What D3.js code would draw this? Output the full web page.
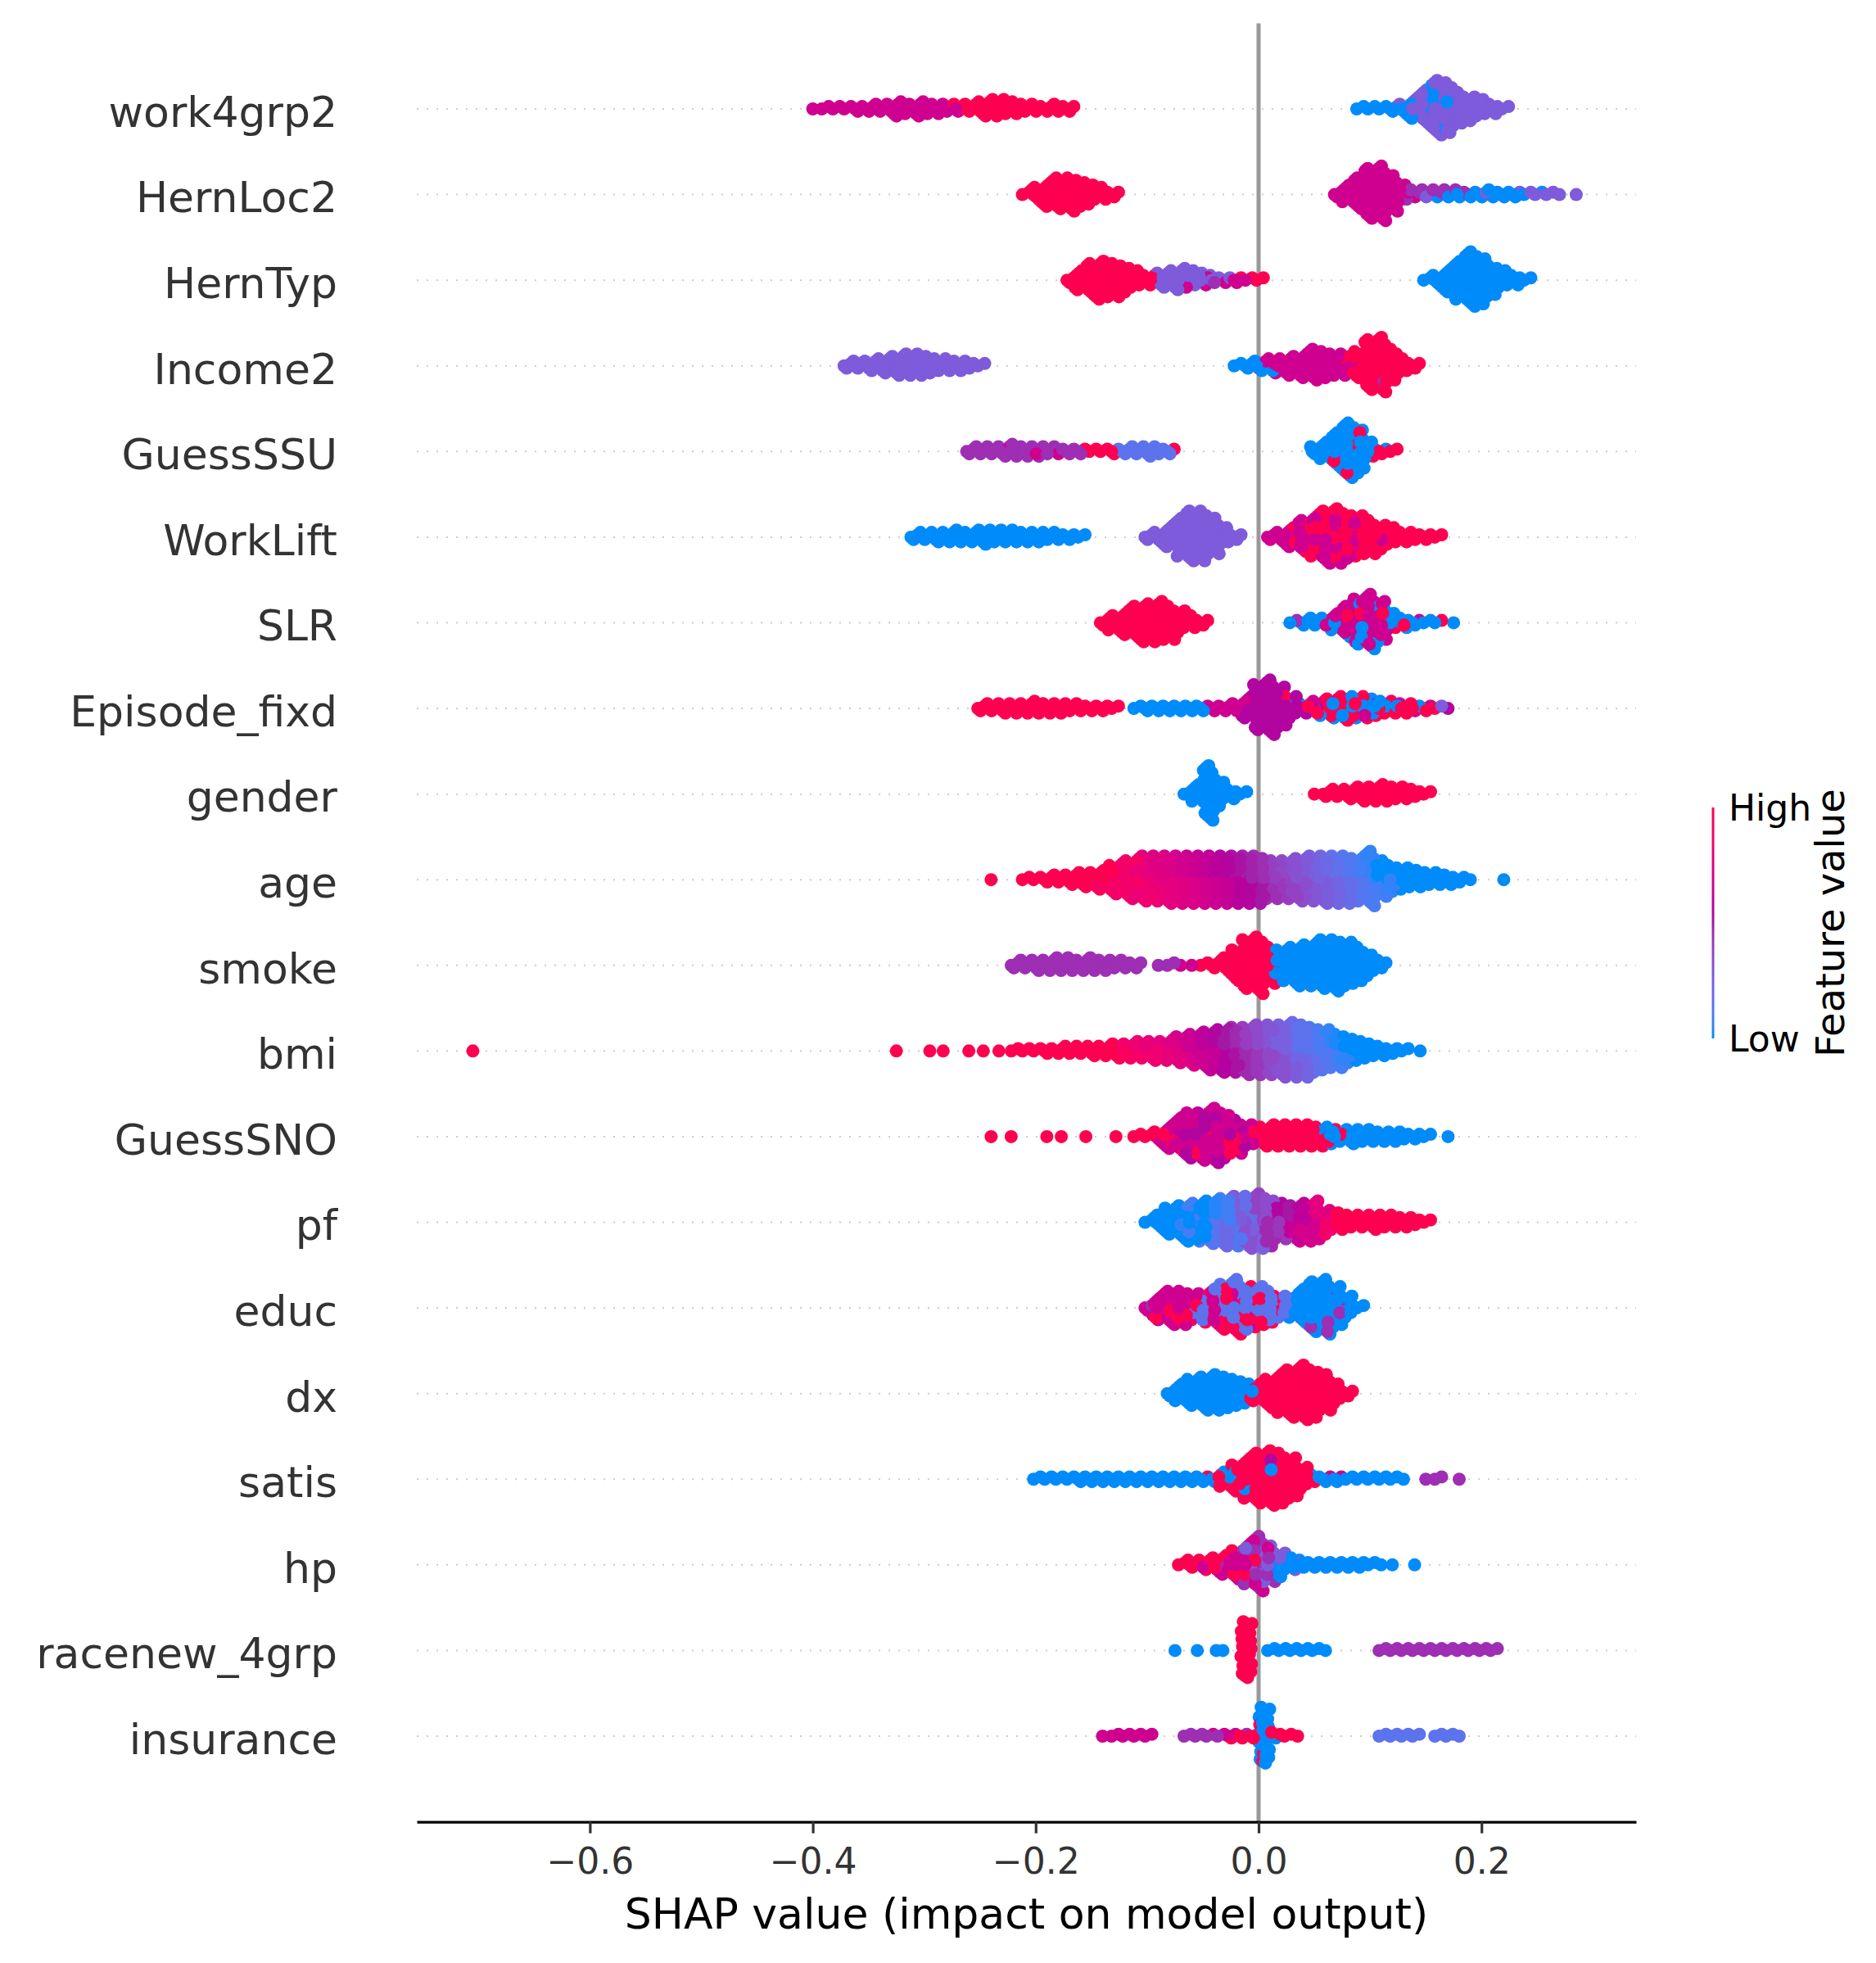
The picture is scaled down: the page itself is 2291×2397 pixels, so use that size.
<!DOCTYPE html>
<html>
<head>
<meta charset="utf-8">
<script src="https://cdn.jsdelivr.net/npm/d3@7"></script>
<style>
  body { margin: 0; background: #fff; }
  text { font-family: "DejaVu Sans", sans-serif; }
</style>
</head>
<body>
<div id="chart"></div>
<script>
// feature value levels (0 = low, 1 = high)
var B = 0, BV = 0.15, V = 0.27, P = 0.45, PM = 0.55, M = 0.67, R = 1;

// features, top to bottom
var features = ["work4grp2", "HernLoc2", "HernTyp", "Income2", "GuessSSU", "WorkLift", "SLR",
  "Episode_fixd", "gender", "age", "smoke", "bmi", "GuessSNO", "pf", "educ", "dx", "satis",
  "hp", "racenew_4grp", "insurance"];

// each entry: [shap value, count, feature value, count, feature value, ...]
var work4grp2 = [[-0.40,1,M],[-0.39,2,M],[-0.38,2,M],[-0.37,2,M],[-0.36,3,M],[-0.35,3,M],[-0.34,4,M],
  [-0.33,5,M],[-0.32,7,M],[-0.31,5,M],[-0.30,7,M],[-0.29,5,M],[-0.28,4,M],[-0.27,2,M,2,R],[-0.26,4,R],
  [-0.25,6,R],[-0.24,7,R,1,M],[-0.23,8,R],[-0.22,6,R],[-0.21,4,R],[-0.20,4,R],[-0.19,3,R],[-0.18,4,R],
  [-0.17,3,R],
  [0.09,2,B],[0.10,2,B],[0.11,2,B],[0.12,3,B],[0.13,3,B,2,V],[0.14,4,B,6,V],[0.15,4,B,12,V],
  [0.16,3,B,21,V],[0.17,2,B,20,V],[0.18,1,B,13,V],[0.19,11,V],[0.20,8,V],[0.21,5,V],[0.22,2,V]];

var HernLoc2 = [[-0.21,2,R],[-0.20,6,R],[-0.19,11,R],[-0.18,14,R],[-0.17,15,R],[-0.16,12,R],
  [-0.15,9,R],[-0.14,6,R],[-0.13,3,R],
  [0.07,3,M],[0.08,8,M],[0.09,14,M],[0.10,22,M],[0.11,24,M],[0.12,16,M],[0.13,7,M,1,P],
  [0.14,3,P,1,M],[0.15,3,P,1,V],[0.16,2,B,2,P],[0.17,3,P,1,B],[0.18,2,B,2,P],[0.19,3,B],
  [0.20,2,B,1,V],[0.21,4,B],[0.22,3,B],[0.23,2,B,1,V],[0.24,1,B,1,V],[0.25,1,V,1,B],[0.26,2,V],
  [0.27,1,V],[0.285,1,V]];

var HernTyp = [[-0.17,3,R],[-0.16,9,R],[-0.15,15,R],[-0.14,17,R],[-0.13,15,R],[-0.12,12,R],
  [-0.11,8,R],[-0.10,5,R],
  [-0.09,5,V,1,R],[-0.08,7,V,1,M],[-0.07,8,V,2,M],[-0.06,6,V,2,M],[-0.05,4,V,2,M],[-0.04,3,V,1,P],
  [-0.03,2,M,1,V],[-0.02,2,M,1,R],[-0.01,1,M,1,R],[0.00,2,R],
  [0.15,2,B],[0.16,5,B],[0.17,11,B],[0.18,17,B],[0.19,24,B],[0.20,21,B],[0.21,13,B],[0.22,8,B],
  [0.23,5,B],[0.24,2,B]];

var Income2 = [[-0.37,3,V],[-0.36,4,V],[-0.35,5,V],[-0.34,6,V],[-0.33,8,V],[-0.32,10,V],[-0.31,10,V],
  [-0.30,9,V],[-0.29,7,V],[-0.28,6,V],[-0.27,5,V],[-0.26,4,V],[-0.25,2,V],
  [-0.02,2,B],[-0.01,3,B],[0.00,4,B,1,M],[0.01,3,B,3,M],[0.02,7,M],[0.03,9,M],[0.04,11,M],
  [0.05,14,M],[0.06,12,M],[0.07,9,M,1,R],[0.08,5,M,4,R],[0.09,2,M,10,R],[0.10,22,R],
  [0.11,23,R,1,P],[0.12,14,R],[0.13,7,R],[0.14,3,R]];

var GuessSSU = [[-0.26,3,P],[-0.25,4,P],[-0.24,4,P],[-0.23,5,P],[-0.22,5,P,1,M],[-0.21,5,P],
  [-0.20,4,P,1,M],[-0.19,4,P],[-0.18,3,P,1,M],[-0.17,3,P],[-0.16,2,P,1,R],[-0.15,2,R],[-0.14,2,R],
  [-0.13,2,R,1,BV],[-0.12,3,BV],[-0.11,4,BV],[-0.10,5,BV],[-0.09,4,BV],[-0.08,2,BV,1,R],
  [0.05,4,B],[0.06,8,B],[0.07,15,B,1,R],[0.08,22,B,2,R],[0.09,18,B,2,R],[0.10,7,B,1,R],
  [0.11,1,B,2,R],[0.12,2,R]];

var WorkLift = [[-0.31,3,B],[-0.30,4,B],[-0.29,5,B],[-0.28,5,B],[-0.27,6,B],[-0.26,5,B],[-0.25,6,B],
  [-0.24,7,B],[-0.23,6,B],[-0.22,6,B],[-0.21,5,B],[-0.20,5,B],[-0.19,4,B],[-0.18,4,B],[-0.17,3,B],
  [-0.16,2,B],
  [-0.10,3,V],[-0.09,5,V],[-0.08,10,V],[-0.07,17,V],[-0.06,22,V],[-0.05,22,V],[-0.04,16,V],
  [-0.03,8,V],[-0.02,3,V],
  [0.01,3,M],[0.02,5,M],[0.03,6,M,3,R],[0.04,9,M,5,R],[0.05,10,M,8,R],[0.06,12,M,11,R],
  [0.07,10,M,14,R],[0.08,6,M,14,R],[0.09,4,M,14,R],[0.10,3,M,12,R],[0.11,2,M,9,R],[0.12,1,M,7,R],
  [0.13,5,R],[0.14,4,R],[0.15,3,R],[0.16,2,R]];

var SLR = [[-0.14,3,R],[-0.13,7,R],[-0.12,11,R],[-0.11,15,R],[-0.10,17,R],[-0.09,18,R],[-0.08,15,R],
  [-0.07,10,R],[-0.06,6,R],[-0.05,3,R],
  [0.03,1,B,1,P],[0.04,3,B],[0.05,4,B],[0.06,3,B,1,M],[0.07,4,B,4,M],[0.08,5,B,8,M,1,R],
  [0.09,6,B,13,M,1,R],[0.10,7,B,16,M,1,R],[0.11,5,B,12,M,1,R],[0.12,4,B,3,M,1,R],[0.13,4,B,1,R],
  [0.14,2,B,1,M],[0.15,2,B],[0.16,1,B,1,R],[0.175,1,B]];

var Episode_fixd = [[-0.25,3,R],[-0.24,4,R],[-0.23,5,R],[-0.22,5,R],[-0.21,5,R],[-0.20,6,R],
  [-0.19,5,R],[-0.18,5,R],[-0.17,4,R],[-0.16,4,R],[-0.15,3,R],[-0.14,3,R],[-0.13,2,R],
  [-0.11,2,B],[-0.10,3,B],[-0.09,3,B],[-0.08,3,B],[-0.07,3,B],[-0.06,3,B],[-0.05,2,B,1,M],
  [-0.04,3,M],[-0.03,3,M],[-0.02,4,M],
  [-0.01,9,PM,1,M],[0.00,20,PM],[0.01,24,PM],[0.02,17,PM,1,R],[0.03,8,PM,2,B],[0.04,3,PM,1,R,1,B],
  [0.05,2,B,2,R,2,M],[0.06,3,B,3,R,2,M],[0.07,4,B,4,R,2,M],[0.08,4,B,5,R,2,M],[0.09,3,B,5,R,2,M],
  [0.10,3,B,4,R,2,M],[0.11,2,B,4,R,1,M],[0.12,1,B,4,R,1,M],[0.13,1,B,3,R,1,M],[0.14,2,R,1,B,1,M],
  [0.15,2,R,1,M],[0.16,1,R,1,V],[0.17,1,PM]];

var gender = [[-0.065,2,B],[-0.055,8,B],[-0.045,24,B],[-0.035,12,B],[-0.025,5,B],[-0.015,2,B],
  [0.05,1,R],[0.06,3,R],[0.07,4,R],[0.08,5,R],[0.09,6,R],[0.10,7,R],[0.11,8,R],[0.12,7,R],
  [0.13,6,R],[0.14,4,R],[0.15,2,R]];

var age = [[-0.24,1,R],[-0.21,2,R],[-0.20,2,R],[-0.19,3,R],[-0.18,4,R],[-0.17,5,R],[-0.16,6,R],
  [-0.15,7,R],[-0.14,7,R,2,0.9],[-0.13,6,R,7,0.9],[-0.12,6,0.95,10,0.88],[-0.11,10,0.9,8,0.82],
  [-0.10,10,0.85,10,0.78],[-0.09,10,0.82,10,0.75],[-0.08,11,0.78,10,0.72],[-0.07,11,0.75,10,0.68],
  [-0.06,11,0.72,10,0.65],[-0.05,11,0.68,10,0.62],[-0.04,11,0.65,10,0.58],[-0.03,11,0.62,10,0.55],
  [-0.02,11,0.58,10,0.52],[-0.01,11,0.55,10,0.48],[0.00,11,0.5,10,0.45],[0.01,9,0.45,8,0.4],
  [0.02,9,0.42,8,0.36],[0.03,9,0.38,9,0.32],[0.04,10,0.34,9,0.28],[0.05,10,0.3,10,0.24],
  [0.06,11,0.26,10,0.2],[0.07,11,0.22,10,0.16],[0.08,11,0.18,10,0.12],[0.09,10,0.14,9,0.08],
  [0.10,12,0.1,12,0.05],[0.11,8,0.08,8,B],[0.12,6,0.05,6,B],[0.13,10,B],[0.14,8,B],[0.15,7,B],
  [0.16,6,B],[0.17,5,B],[0.18,3,B],[0.19,1,B],[0.22,1,B]];

var smoke = [[-0.22,3,P],[-0.21,4,P],[-0.20,5,P],[-0.19,5,P],[-0.18,6,P],[-0.17,6,P],[-0.16,5,P],
  [-0.15,6,P],[-0.14,5,P],[-0.13,4,P],[-0.12,4,P],[-0.11,3,P],[-0.09,1,P],[-0.08,2,P],[-0.07,1,M],
  [-0.06,1,M],[-0.05,2,R],[-0.04,3,R],[-0.03,6,R],[-0.02,13,R],[-0.01,20,R],[0.00,23,R],
  [0.01,12,R,3,B],[0.02,13,B],[0.03,15,B],[0.04,17,B],[0.05,18,B],[0.06,20,B],[0.07,21,B],
  [0.08,18,B],[0.09,14,B],[0.10,9,B],[0.11,4,B]];

var bmi = [[-0.705,1,R],[-0.325,1,R],[-0.295,1,R],[-0.283,1,R],[-0.26,1,R],[-0.247,1,R],
  [-0.233,1,R],[-0.22,2,R],[-0.21,2,R],[-0.20,2,R],[-0.19,3,R],[-0.18,3,R],[-0.17,4,R],[-0.16,4,R],
  [-0.15,5,R],[-0.14,5,R],[-0.13,6,R],[-0.12,4,0.95,3,0.88],[-0.11,4,0.9,4,0.85],
  [-0.10,4,0.88,4,0.8],[-0.09,5,0.85,4,0.78],[-0.08,5,0.8,5,0.74],[-0.07,6,0.76,6,0.7],
  [-0.06,7,0.72,7,0.65],[-0.05,8,0.66,8,0.6],[-0.04,9,0.62,9,0.55],[-0.03,10,0.56,9,0.5],
  [-0.02,10,0.52,10,0.46],[-0.01,11,0.46,10,0.4],[0.00,11,0.42,11,0.35],[0.01,11,0.36,11,0.3],
  [0.02,12,0.32,11,0.25],[0.03,12,0.26,12,0.2],[0.04,12,0.22,11,0.15],[0.05,10,0.16,10,0.1],
  [0.06,9,0.12,9,0.05],[0.07,8,0.08,7,0.02],[0.08,6,0.04,6,B],[0.09,9,B],[0.10,7,B],[0.11,5,B],
  [0.12,3,B],[0.13,2,B],[0.145,1,B]];

var GuessSNO = [[-0.24,1,R],[-0.222,1,R],[-0.19,1,R],[-0.177,1,R],[-0.155,1,R],[-0.128,1,R],
  [-0.11,2,R],[-0.10,2,R],[-0.09,2,R,3,M],[-0.08,1,R,7,M,3,PM],[-0.07,2,R,9,M,5,PM],
  [-0.06,2,R,11,M,7,PM],[-0.05,2,R,11,M,8,PM],[-0.04,2,R,12,M,10,PM],[-0.03,2,R,10,M,8,PM],
  [-0.02,2,R,7,M,6,PM],[-0.01,1,R,5,M,4,PM],[0.00,6,R,2,M],[0.01,9,R,1,V],[0.02,9,R,1,V],
  [0.03,9,R,1,V],[0.04,8,R,1,V,1,M],[0.05,7,R,2,V],[0.06,5,R,3,B,1,V],[0.07,2,R,5,B],[0.08,6,B],
  [0.09,7,B],[0.10,6,B],[0.11,5,B],[0.12,5,B],[0.13,4,B],[0.14,3,B],[0.15,2,B],[0.17,1,B]];

var pf = [[-0.10,2,B],[-0.09,6,B],[-0.08,11,B,1,0.05],[-0.07,12,B,3,0.05],[-0.06,12,B,5,0.08],
  [-0.05,11,B,7,0.1],[-0.04,9,0.03,10,0.14],[-0.03,10,0.08,11,0.2],[-0.02,11,0.12,11,0.26],
  [-0.01,11,0.18,12,0.32],[0.00,12,0.25,12,0.38],[0.01,10,0.34,11,0.46],[0.02,8,0.42,8,0.55],
  [0.03,7,0.5,8,0.62],[0.04,8,0.6,9,0.7],[0.05,9,0.68,9,0.78],[0.06,5,0.75,6,0.88],
  [0.07,3,0.85,5,R],[0.08,7,R],[0.09,6,R],[0.10,6,R],[0.11,7,R],[0.12,6,R],[0.13,5,R],[0.14,4,R],
  [0.15,2,R]];

var educ = [[-0.10,1,P,2,M],[-0.09,9,M,2,R],[-0.08,12,M,3,R],[-0.07,11,M,3,R,1,BV],
  [-0.06,8,M,3,R,1,BV],[-0.05,5,M,5,R,3,BV],[-0.04,4,M,6,R,6,BV],[-0.03,3,M,7,R,10,BV],
  [-0.02,3,M,8,R,13,BV],[-0.01,2,M,8,R,9,BV],[0.00,1,M,8,R,9,BV],[0.01,5,R,9,BV],[0.02,2,R,8,BV],
  [0.03,9,B],[0.04,15,B,1,P],[0.05,20,B,2,P],[0.06,21,B,3,P],[0.07,16,B,2,P],[0.08,9,B,1,P],
  [0.09,2,B]];

var dx = [[-0.08,3,B],[-0.07,8,B],[-0.06,12,B],[-0.05,15,B],[-0.04,16,B],[-0.03,14,B],[-0.02,12,B],
  [-0.01,8,B,1,R],[0.00,2,B,6,R],[0.01,13,R],[0.02,18,R],[0.03,21,R],[0.04,24,R],[0.05,21,R],
  [0.06,16,R],[0.07,9,R],[0.08,3,R]];

var satis = [[-0.20,2,B],[-0.19,2,B],[-0.18,2,B],[-0.17,2,B],[-0.16,3,B],[-0.15,3,B],[-0.14,3,B],
  [-0.13,3,B],[-0.12,3,B],[-0.11,3,B],[-0.10,3,B],[-0.09,3,B],[-0.08,3,B],[-0.07,3,B],[-0.06,3,B],
  [-0.05,2,B,1,R],[-0.04,2,B,1,R],[-0.03,2,B,5,R],[-0.02,1,B,11,R],[-0.01,1,B,17,R],[0.00,22,R],
  [0.01,22,R,1,B,1,PM],[0.02,22,R],[0.03,18,R],[0.04,10,R],[0.05,2,R,2,B],[0.06,2,B,1,M],
  [0.07,2,B,1,M],[0.08,2,B],[0.09,2,B],[0.10,2,B],[0.11,2,B],[0.12,2,B],[0.13,1,B],[0.15,1,P],
  [0.16,2,P],[0.18,1,P]];

var hp = [[-0.07,2,R],[-0.06,4,R],[-0.05,4,R,1,M],[-0.04,4,R,2,M],[-0.03,4,R,4,M,1,P],
  [-0.02,4,R,6,M,3,P],[-0.01,3,R,8,M,5,P,2,V],[0.00,2,R,8,M,8,P,6,V],[0.01,3,M,5,P,6,V,2,B],
  [0.02,5,V,6,B],[0.03,2,V,4,B],[0.04,4,B],[0.05,3,B],[0.06,3,B],[0.07,3,B],[0.08,3,B],[0.09,3,B],
  [0.10,2,B],[0.11,1,B],[0.12,1,B],[0.14,1,B]];

var racenew_4grp = [[-0.075,1,B],[-0.055,1,B],[-0.038,1,B],[-0.032,1,B],[-0.011,30,R],
  [0.01,2,B],[0.02,2,B],[0.03,2,B],[0.04,2,B],[0.05,2,B],[0.06,1,B],
  [0.11,2,P],[0.12,2,P],[0.13,2,P],[0.14,2,P],[0.15,2,P],[0.16,2,P],[0.17,2,P],[0.18,2,P],
  [0.19,2,P],[0.20,2,P],[0.21,2,P]];

var insurance = [[-0.14,1,M],[-0.13,2,M],[-0.12,2,M],[-0.11,2,M],[-0.10,2,M],[-0.065,2,P],
  [-0.055,2,P],[-0.045,1,P,1,M],[-0.035,1,P,1,M],[-0.025,1,M,2,R],[-0.015,1,P,2,R],[-0.005,2,R,1,B],
  [0.005,26,B,4,R],[0.015,3,R,1,B],[0.025,2,R],[0.035,1,R],
  [0.11,2,BV],[0.12,2,BV],[0.13,2,BV],[0.14,2,BV],[0.16,2,BV],[0.17,2,BV],[0.18,1,BV]];

var rows = [work4grp2, HernLoc2, HernTyp, Income2, GuessSSU, WorkLift, SLR, Episode_fixd, gender,
  age, smoke, bmi, GuessSNO, pf, educ, dx, satis, hp, racenew_4grp, insurance];

var xTicks = [-0.6, -0.4, -0.2, 0, 0.2];
var legendLabels = ["Low", "High"];

// ---------------------------------------------------------------
var width = 2291, height = 2397;
var svg = d3.select("#chart").append("svg")
  .attr("width", width).attr("height", height)
  .style("background", "#fff");

var xScale = d3.scaleLinear().domain([-0.7553, 0.3387]).range([509, 1998]);
// matplotlib ylim(-1, n_features)
var yScale = d3.scaleLinear().domain([-1, features.length]).range([2224.6, 28.4]);

// shap red_blue colour map (lch path, lightness dips to 40 in the middle)
var blueEnd = d3.hcl("#008bfb"), redEnd = d3.hcl("#ff0051");
var hueRed = redEnd.h < blueEnd.h ? redEnd.h + 360 : redEnd.h;
function shapColor(t) {
  var l = t < 0.5 ? blueEnd.l + (40 - blueEnd.l) * t * 2 : 40 + (redEnd.l - 40) * (t - 0.5) * 2;
  var c = blueEnd.c + (redEnd.c - blueEnd.c) * t;
  var h = blueEnd.h + (hueRed - blueEnd.h) * t;
  return d3.hcl(h, c, l).formatHex();
}

// dotted row guides
svg.append("g").selectAll("line").data(features).enter().append("line")
  .attr("x1", xScale.range()[0]).attr("x2", xScale.range()[1])
  .attr("y1", function(d, i) { return yScale(features.length - 1 - i); })
  .attr("y2", function(d, i) { return yScale(features.length - 1 - i); })
  .attr("stroke", "#cccccc").attr("stroke-width", 2)
  .attr("stroke-dasharray", "2,10");

// zero line
svg.append("line")
  .attr("x1", xScale(0)).attr("x2", xScale(0))
  .attr("y1", yScale(features.length)).attr("y2", yScale(-1))
  .attr("stroke", "#999999").attr("stroke-width", 5);

// beeswarm layout: stack each column alternately above / below the row line
var phi = 0.6180339887;
var binWidth = 0.01;
var points = [];
rows.forEach(function(cols, ri) {
  var pos = features.length - 1 - ri;
  var counts = cols.map(function(col) {
    var n = 0;
    for (var i = 1; i < col.length; i += 2) n += col[i];
    return n;
  });
  var maxLayer = d3.max(counts, function(n) { return Math.ceil((n - 1) / 2); });
  var unit = 0.9 * 0.4 / (maxLayer + 1);
  cols.forEach(function(col, ci) {
    var groups = [];
    for (var i = 1; i < col.length; i += 2) groups.push({ n: col[i], c: col[i + 1] });
    var n = counts[ci];
    var used = groups.map(function() { return 0; });
    for (var k = 0; k < n; k++) {
      var best = 0, bestD = -Infinity;
      groups.forEach(function(g, gi) {
        var d = (k + 1) * g.n / n - used[gi];
        if (d > bestD) { bestD = d; best = gi; }
      });
      used[best]++;
      var layer = Math.ceil(k / 2) * ((k % 2) * 2 - 1);
      var off = n === 1 ? 0 : (((k + 0.5) * phi) % 1 - 0.5) * binWidth;
      points.push({ x: col[0] + off, y: pos + layer * unit, c: groups[best].c });
    }
  });
});
// mix the drawing order so no colour sits systematically on top
points.forEach(function(p, i) { p.order = (i * phi) % 1; });
points.sort(function(a, b) { return a.order - b.order; });

svg.append("g").selectAll("circle").data(points).enter().append("circle")
  .attr("cx", function(d) { return xScale(d.x); })
  .attr("cy", function(d) { return yScale(d.y); })
  .attr("r", 8)
  .attr("fill", function(d) { return shapColor(d.c); });

// feature labels
svg.append("g").selectAll("text").data(features).enter().append("text")
  .attr("x", 412)
  .attr("y", function(d, i) { return yScale(features.length - 1 - i); })
  .attr("dy", "0.42em")
  .attr("text-anchor", "end")
  .attr("font-size", 52)
  .attr("fill", "#333333")
  .text(function(d) { return d; });

// x axis
var xAxis = d3.axisBottom(xScale)
  .tickValues(xTicks)
  .tickFormat(d3.format(".1f"))
  .tickSize(14)
  .tickSizeOuter(0)
  .tickPadding(18);

var gx = svg.append("g")
  .attr("transform", "translate(0," + yScale(-1) + ")")
  .call(xAxis);
gx.select(".domain").attr("stroke", "#000").attr("stroke-width", 3.2);
gx.selectAll(".tick line").attr("stroke", "#333333").attr("stroke-width", 3.2);
gx.selectAll(".tick text")
  .attr("font-size", 44)
  .attr("font-family", "DejaVu Sans")
  .attr("fill", "#333333");

svg.append("text")
  .attr("x", (xScale.range()[0] + xScale.range()[1]) / 2)
  .attr("y", 2355)
  .attr("text-anchor", "middle")
  .attr("font-size", 52)
  .attr("fill", "#000")
  .text("SHAP value (impact on model output)");

// colour bar
var barTop = 986, barBottom = 1268, barX = 2090.5;
var grad = svg.append("defs").append("linearGradient")
  .attr("id", "fvGrad").attr("x1", 0).attr("y1", 1).attr("x2", 0).attr("y2", 0);
d3.range(0, 1.0001, 0.05).forEach(function(t) {
  grad.append("stop").attr("offset", t).attr("stop-color", shapColor(t));
});
svg.append("rect")
  .attr("x", barX).attr("y", barTop)
  .attr("width", 3).attr("height", barBottom - barTop)
  .attr("fill", "url(#fvGrad)");

svg.append("text")
  .attr("x", 2111).attr("y", barBottom).attr("dy", "0.36em")
  .attr("font-size", 44).attr("fill", "#000")
  .text(legendLabels[0]);
svg.append("text")
  .attr("x", 2111).attr("y", barTop).attr("dy", "0.36em")
  .attr("font-size", 44).attr("fill", "#000")
  .text(legendLabels[1]);

svg.append("text")
  .attr("transform", "translate(2252," + ((barTop + barBottom) / 2) + ") rotate(-90)")
  .attr("text-anchor", "middle")
  .attr("font-size", 48)
  .attr("fill", "#000")
  .text("Feature value");
</script>
</body>
</html>
